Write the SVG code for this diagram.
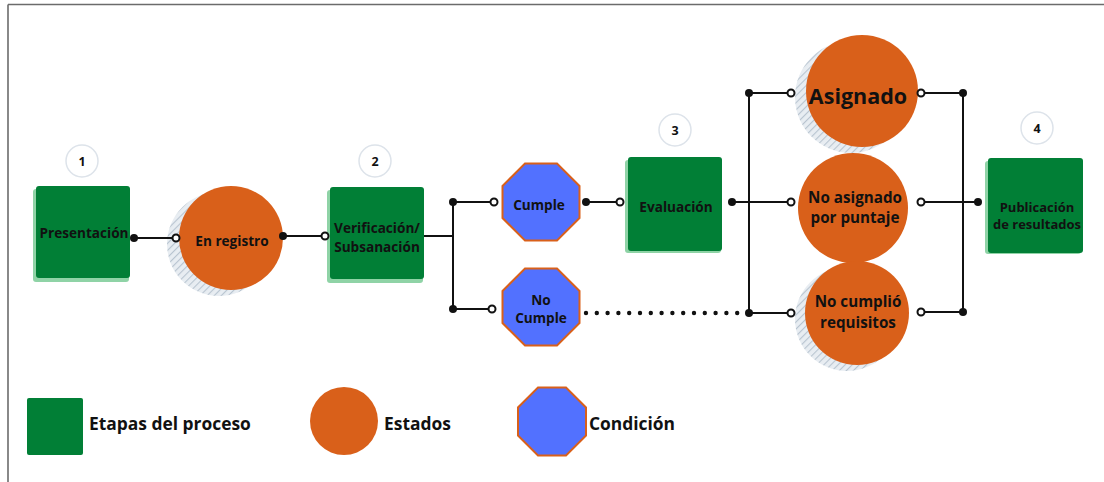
<svg xmlns="http://www.w3.org/2000/svg" width="1104" height="482" viewBox="0 0 1104 482">
  <defs>
    <pattern id="hatch" width="5" height="5" patternUnits="userSpaceOnUse" patternTransform="rotate(45)">
      <rect width="5" height="5" fill="#e8edf2"/>
      <line x1="0" y1="0" x2="0" y2="5" stroke="#b8c4d0" stroke-width="2.2"/>
    </pattern>
  </defs>
  <style>
    .frame { stroke: #6b6b6b; stroke-width: 1.6; fill: none; }
    .box { fill: #017f36; }
    .boxsh { fill: #8fd3a6; }
    .state { fill: #d9601a; }
    .shadow { fill: url(#hatch); }
    .cond { fill: #5271ff; stroke: #d9601a; stroke-width: 2; }
    .num { fill: #ffffff; stroke: #dde3ea; stroke-width: 1.5; }
    .t { font-family: "Open Sans", "Noto Sans", "Liberation Sans", sans-serif; font-weight: bold; fill: #111111; text-anchor: middle; }
    .s13 { font-size: 13.6px; }
    .s12 { font-size: 13px; }
    .s14 { font-size: 15.2px; }
    .sn { font-size: 12.5px; }
    .lg { font-family: "Open Sans", "Noto Sans", "Liberation Sans", sans-serif; font-weight: bold; font-size: 17.4px; fill: #111111; }
    .ln { stroke: #111111; stroke-width: 2; fill: none; }
    .dot { fill: #111111; }
    .open { fill: #ffffff; stroke: #111111; stroke-width: 2; }
    .dotted { stroke: #111111; stroke-width: 4.4; stroke-linecap: round; stroke-dasharray: 0 10.8; fill: none; }
  </style>

  <g id="frame">
    <line class="frame" x1="8" y1="4.5" x2="1104" y2="4.5"/>
    <line class="frame" x1="8" y1="4.5" x2="8" y2="482"/>
  </g>

  <g id="num1"><circle class="num" cx="82" cy="161" r="16"/><text class="t sn" x="82" y="166">1</text></g>
  <g id="num2"><circle class="num" cx="375" cy="161" r="16"/><text class="t sn" x="375" y="166">2</text></g>
  <g id="num3"><circle class="num" cx="675" cy="130" r="16"/><text class="t sn" x="675" y="135">3</text></g>
  <g id="num4"><circle class="num" cx="1037" cy="128" r="16"/><text class="t sn" x="1037" y="133">4</text></g>

  <g id="presentacion">
    <rect class="boxsh" x="33" y="189" width="96" height="93" rx="3"/>
    <rect class="box" x="36" y="186" width="94" height="92" rx="3"/>
    <text class="t s13" x="84" y="238">Presentación</text>
  </g>

  <g id="en-registro">
    <circle class="shadow" cx="219" cy="244" r="52"/>
    <circle class="state" cx="231" cy="238" r="52"/>
    <text class="t s13" x="232" y="246">En registro</text>
  </g>

  <g id="verificacion">
    <rect class="boxsh" x="327" y="190" width="96" height="93" rx="3"/>
    <rect class="box" x="330" y="187" width="94" height="92" rx="3"/>
    <text class="t s13" x="377" y="233">Verificación/</text>
    <text class="t s13" x="377" y="252">Subsanación</text>
  </g>

  <g id="cumple">
    <polygon class="cond" points="525,163.5 557,163.5 579.5,186 579.5,218 557,240.5 525,240.5 502.5,218 502.5,186"/>
    <text class="t s13" x="539" y="210">Cumple</text>
  </g>

  <g id="no-cumple">
    <polygon class="cond" points="525,268.5 557,268.5 579.5,291 579.5,323 557,345.5 525,345.5 502.5,323 502.5,291"/>
    <text class="t s13" x="541" y="305">No</text>
    <text class="t s13" x="541" y="323">Cumple</text>
  </g>

  <g id="evaluacion">
    <rect class="boxsh" x="625" y="160" width="96" height="93" rx="3"/>
    <rect class="box" x="628" y="157" width="94" height="94" rx="3"/>
    <text class="t s13" x="676" y="212">Evaluación</text>
  </g>

  <g id="asignado">
    <circle class="shadow" cx="851" cy="97" r="56"/>
    <circle class="state" cx="862" cy="91" r="56"/>
    <text class="t" style="font-size:21.5px" x="858" y="104">Asignado</text>
  </g>

  <g id="no-asignado">
    <circle class="state" cx="853" cy="208" r="55"/>
    <text class="t s14" x="855" y="203">No asignado</text>
    <text class="t s14" x="855" y="223">por puntaje</text>
  </g>

  <g id="no-cumplio">
    <circle class="shadow" cx="847" cy="319" r="52"/>
    <circle class="state" cx="857" cy="313" r="52"/>
    <text class="t s14" x="858" y="307">No cumplió</text>
    <text class="t s14" x="858" y="328">requisitos</text>
  </g>

  <g id="publicacion">
    <rect class="boxsh" x="985" y="161" width="96" height="93" rx="3"/>
    <rect class="box" x="988" y="158" width="95" height="95" rx="3"/>
    <text class="t s12" x="1037" y="212">Publicación</text>
    <text class="t s12" x="1037" y="229">de resultados</text>
  </g>

  <g id="connectors">
    <line class="ln" x1="134" y1="238" x2="176" y2="238"/>
    <circle class="dot" cx="134" cy="238" r="4"/>
    <circle class="open" cx="176" cy="238" r="3.5"/>

    <line class="ln" x1="283" y1="236" x2="325" y2="236"/>
    <circle class="dot" cx="283" cy="236" r="4"/>
    <circle class="open" cx="325" cy="236" r="3.5"/>

    <line class="ln" x1="424" y1="236" x2="453" y2="236"/>
    <line class="ln" x1="453" y1="202" x2="453" y2="309"/>
    <line class="ln" x1="453" y1="202" x2="494" y2="202"/>
    <line class="ln" x1="453" y1="309" x2="492" y2="309"/>
    <circle class="dot" cx="453" cy="202" r="4"/>
    <circle class="dot" cx="453" cy="309" r="4"/>
    <circle class="open" cx="494" cy="202" r="3.5"/>
    <circle class="open" cx="492" cy="309" r="3.5"/>

    <line class="ln" x1="586" y1="202" x2="620" y2="202"/>
    <circle class="dot" cx="586" cy="202" r="4"/>
    <circle class="open" cx="620" cy="202" r="3.5"/>

    <line class="ln" x1="732" y1="202" x2="791" y2="202"/>
    <line class="ln" x1="749" y1="93" x2="749" y2="313"/>
    <line class="ln" x1="749" y1="93" x2="791" y2="93"/>
    <line class="ln" x1="749" y1="313" x2="791" y2="313"/>
    <circle class="dot" cx="732" cy="202" r="4"/>
    <circle class="dot" cx="749" cy="93" r="4"/>
    <circle class="dot" cx="749" cy="313" r="4"/>
    <circle class="open" cx="791" cy="93" r="3.5"/>
    <circle class="open" cx="791" cy="202" r="3.5"/>
    <circle class="open" cx="791" cy="313" r="3.5"/>

    <line class="dotted" x1="586" y1="313" x2="748" y2="313"/>

    <line class="ln" x1="921" y1="93" x2="963" y2="93"/>
    <line class="ln" x1="921" y1="202" x2="978" y2="202"/>
    <line class="ln" x1="921" y1="312" x2="963" y2="312"/>
    <line class="ln" x1="963" y1="93" x2="963" y2="312"/>
    <circle class="open" cx="921" cy="93" r="3.5"/>
    <circle class="open" cx="921" cy="202" r="3.5"/>
    <circle class="open" cx="921" cy="312" r="3.5"/>
    <circle class="dot" cx="963" cy="93" r="4"/>
    <circle class="dot" cx="963" cy="312" r="4"/>
    <circle class="dot" cx="978" cy="202" r="4"/>
  </g>

  <g id="legend">
    <rect class="box" x="27" y="398" width="56" height="57" rx="2"/>
    <text class="lg" x="89" y="430">Etapas del proceso</text>
    <circle class="state" cx="344" cy="421" r="34"/>
    <text class="lg" x="384" y="430">Estados</text>
    <polygon class="cond" points="538,387.5 566,387.5 586,407.5 586,435.5 566,455.5 538,455.5 518,435.5 518,407.5"/>
    <text class="lg" x="589" y="430">Condición</text>
  </g>
</svg>
